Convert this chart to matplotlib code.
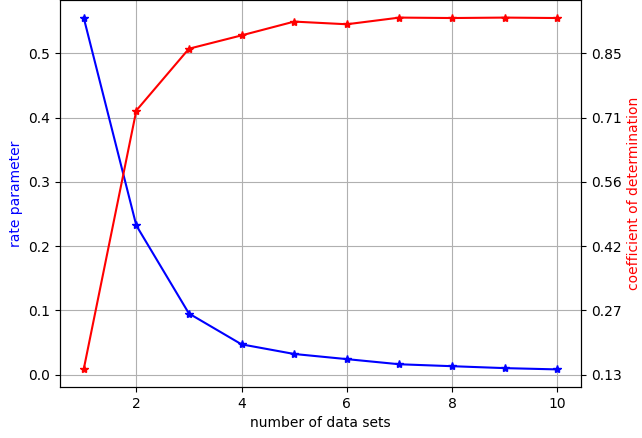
import numpy as np
import matplotlib
matplotlib.use('Agg')
import matplotlib.pyplot as plt
from matplotlib.ticker import FormatStrFormatter

n_sets = [1, 2, 3, 4, 5, 6, 7, 8, 9, 10]
rate = [0.5555, 0.232, 0.095, 0.047, 0.032, 0.024, 0.016, 0.013, 0.010, 0.008]
r2 = [0.141, 0.723, 0.862, 0.892, 0.923, 0.917, 0.932, 0.931, 0.932, 0.931]

fig = plt.figure(figsize=(6.42, 4.38), dpi=100)
ax1 = fig.add_axes([60/642, 51/438, 521/642, 387/438])
ax1.plot(n_sets, rate, 'b*-')
ax1.set_xlabel('number of data sets')
ax1.set_ylabel('rate parameter', color='b')
ax1.grid(True)

ax2 = ax1.twinx()
ax2.plot(n_sets, r2, 'r*-')
ax2.set_ylabel('coefficient of determination', color='r')

# align right ticks with left ticks
l0, l1 = ax1.get_ylim()
r0, r1 = ax2.get_ylim()
lt = [t for t in ax1.get_yticks() if l0 <= t <= l1]
rt = [r0 + (t - l0) * (r1 - r0) / (l1 - l0) for t in lt]
ax2.set_yticks(rt)
ax2.set_ylim(r0, r1)
ax2.yaxis.set_major_formatter(FormatStrFormatter('%.2f'))

fig.savefig('out.png', dpi=100)
